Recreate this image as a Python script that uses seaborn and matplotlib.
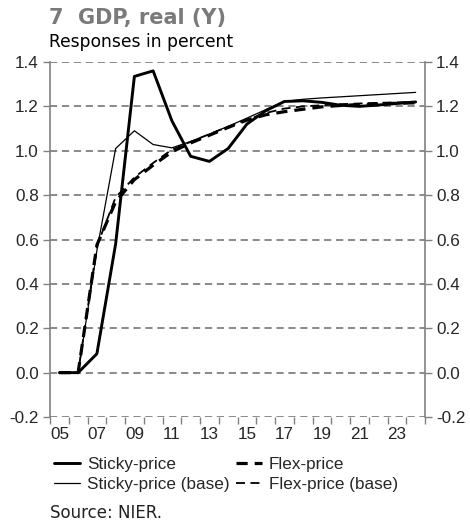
import matplotlib
matplotlib.use("Agg")
import matplotlib.pyplot as plt
from matplotlib.lines import Line2D
from matplotlib.ticker import FixedLocator
import seaborn as sns
import pandas as pd

years = list(range(2005, 2025))
sticky = [0.0, 0.0, 0.085, 0.58, 1.335, 1.36, 1.135, 0.975, 0.952, 1.01, 1.12,
          1.18, 1.222, 1.225, 1.218, 1.205, 1.2, 1.206, 1.213, 1.22]
flex = [0.0, 0.0, 0.575, 0.77, 0.87, 0.935, 0.995, 1.035, 1.07, 1.105, 1.138,
        1.162, 1.176, 1.187, 1.198, 1.204, 1.208, 1.211, 1.214, 1.216]
sticky_base = [0.0, 0.0, 0.55, 1.01, 1.09, 1.028, 1.013, 1.042, 1.075, 1.11, 1.147,
               1.185, 1.222, 1.232, 1.238, 1.243, 1.248, 1.253, 1.258, 1.263]
flex_base = [0.0, 0.0, 0.57, 0.79, 0.88, 0.945, 1.005, 1.04, 1.075, 1.108, 1.14,
             1.17, 1.19, 1.2, 1.205, 1.21, 1.213, 1.216, 1.218, 1.22]
ytick_vals = [-0.2, 0.0, 0.2, 0.4, 0.6, 0.8, 1.0, 1.2, 1.4]
xtick_years = list(range(2005, 2024, 2))
xtick_labels = [f"{y % 100:02d}" for y in xtick_years]

df = pd.DataFrame({"year": years, "sticky": sticky, "flex": flex,
                   "sticky_base": sticky_base, "flex_base": flex_base})

sns.set_style("white")
plt.rcParams["font.family"] = ["Liberation Sans", "DejaVu Sans"]

fig = plt.figure(figsize=(4.70, 5.28), dpi=100)
ax = fig.add_axes([0.1064, 0.2102, 0.7979, 0.6724])

grid_c = "#808080"
for v in ytick_vals:
    ax.axhline(v, color=grid_c, lw=1.3, ls=(0, (4, 2.6)), zorder=1)

styles = [
    ("sticky_base", dict(color="black", linewidth=0.9, linestyle="-")),
    ("flex_base", dict(color="black", linewidth=1.3, dashes=(5, 3))),
    ("flex", dict(color="black", linewidth=2.3, dashes=(3.5, 2.2))),
    ("sticky", dict(color="black", linewidth=2.1, linestyle="-")),
]
for col, kw in styles:
    dashes = kw.pop("dashes", None)
    line_ax = sns.lineplot(data=df, x="year", y=col, ax=ax, zorder=3, **kw)
    if dashes is not None:
        line_ax.lines[-1].set_dashes(dashes)

ax.set_xlim(2004.5, 2024.5)
ax.set_ylim(-0.2, 1.4)
ax.set_xlabel("")
ax.set_ylabel("")

# y axis: labels on both sides
ax.yaxis.set_major_locator(FixedLocator(ytick_vals))
ax.set_yticklabels([f"{v:.1f}" for v in ytick_vals])
ax.tick_params(axis="y", which="major", left=True, right=True, labelleft=True,
               labelright=True, direction="out", length=5, width=1,
               color=grid_c, labelsize=12.3, pad=3)

# x axis: ticks between categories, labels on every other year
ax.xaxis.set_major_locator(FixedLocator(xtick_years))
ax.set_xticklabels(xtick_labels)
ax.xaxis.set_minor_locator(FixedLocator([y - 0.5 for y in years] + [2024.5]))
ax.tick_params(axis="x", which="major", length=0, labelsize=12.3, pad=7)
ax.tick_params(axis="x", which="minor", bottom=True, direction="out",
               length=5, width=1, color=grid_c)

for side in ["top", "bottom"]:
    ax.spines[side].set_visible(False)
for side in ["left", "right"]:
    ax.spines[side].set_color(grid_c)
    ax.spines[side].set_linewidth(1.2)

fig.text(0.104, 0.966, "7  GDP, real (Y)", fontsize=15, fontweight="bold",
         color="#7a7a7a", family="DejaVu Sans", va="center")
fig.text(0.104, 0.921, "Responses in percent", fontsize=12.3, color="black",
         family="DejaVu Sans", va="center")
fig.text(0.106, 0.029, "Source: NIER.", fontsize=12, color="#222222",
         family="DejaVu Sans", va="center")

handles = [
    Line2D([], [], color="black", lw=2.1, ls="-"),
    Line2D([], [], color="black", lw=0.9, ls="-"),
    Line2D([], [], color="black", lw=2.3, dashes=(3.5, 2.2)),
    Line2D([], [], color="black", lw=1.3, dashes=(5, 3)),
]
labels = ["Sticky-price", "Sticky-price (base)", "Flex-price", "Flex-price (base)"]
fig.legend(handles, labels, ncol=2, loc="upper left",
           bbox_to_anchor=(0.115, 0.135), frameon=False, fontsize=12.3,
           handlelength=1.5, handletextpad=0.42, columnspacing=0.4,
           labelspacing=0.3, borderaxespad=0, borderpad=0)

fig.savefig("out.png", dpi=100)
